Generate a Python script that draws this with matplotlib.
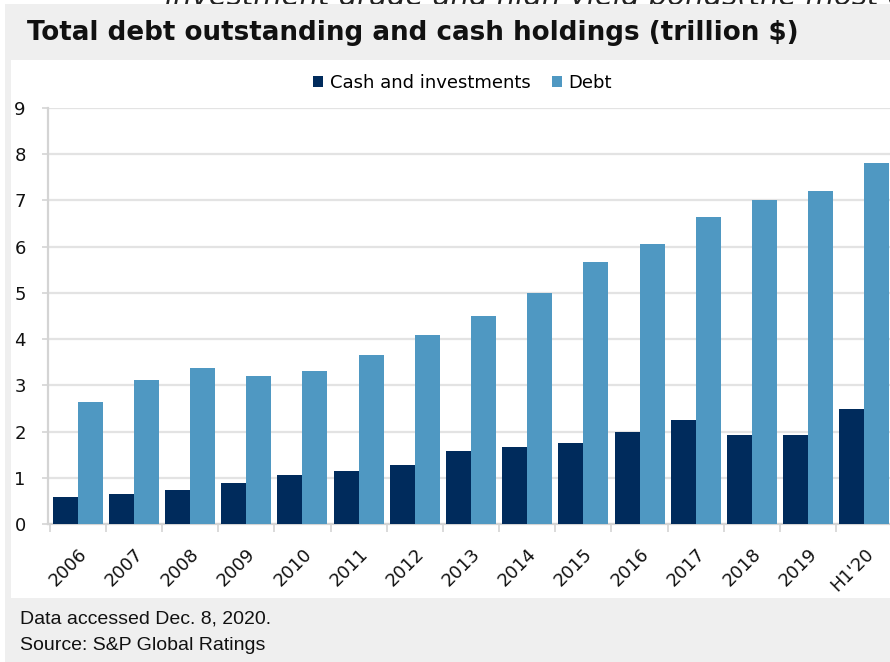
import matplotlib.pyplot as plt
import matplotlib.patches as mpatches
import numpy as np

years = ["2006", "2007", "2008", "2009", "2010", "2011", "2012", "2013",
         "2014", "2015", "2016", "2017", "2018", "2019", "H1'20"]
cash = [0.59, 0.65, 0.73, 0.89, 1.05, 1.15, 1.27, 1.58,
        1.67, 1.76, 2.00, 2.25, 1.93, 1.93, 2.49]
debt = [2.63, 3.11, 3.37, 3.21, 3.32, 3.65, 4.09, 4.50,
        5.00, 5.66, 6.06, 6.64, 7.00, 7.21, 7.82]

navy = "#002b5c"
blue = "#4f98c2"
frame = "#efefef"

W, H = 890, 662
fig = plt.figure(figsize=(W / 100, H / 100), dpi=100)
fig.patch.set_facecolor("white")

def px_rect(x0, y0, x1, y1, color):
    fig.patches.append(mpatches.Rectangle((x0 / W, 1 - y1 / H), (x1 - x0) / W, (y1 - y0) / H,
                                          transform=fig.transFigure, facecolor=color,
                                          edgecolor="none", zorder=-10))

# grey card with a white plotting panel
px_rect(5, 4, W + 2, H + 2, frame)
px_rect(11, 60, W + 2, 598, "white")

# last line of the text above the card, mostly hidden behind it
fig.text(165 / W, 1 - 5 / H, "investment grade and high yield bonds(the most on record",
         fontsize=21, style="italic", color="#222222", va="baseline", ha="left",
         family=["DejaVu Sans"], zorder=-20)

fig.text(27 / W, 1 - 33 / H, "Total debt outstanding and cash holdings (trillion $)",
         fontsize=18.8, weight="bold", color="#111111", va="center", ha="left",
         family=["DejaVu Sans"])

fig.text(20 / W, 1 - 619 / H, "Data accessed Dec. 8, 2020.", fontsize=14,
         color="#111111", va="center", ha="left", family=["Liberation Sans", "DejaVu Sans"])
fig.text(20 / W, 1 - 645 / H, "Source: S&P Global Ratings", fontsize=14,
         color="#111111", va="center", ha="left", family=["Liberation Sans", "DejaVu Sans"])

left, right, bottom, top = 48, 894, 524, 108
ax = fig.add_axes([left / W, 1 - bottom / H, (right - left) / W, (bottom - top) / H])
ax.set_facecolor("none")

x = np.arange(len(years))
bw = 0.445
ax.bar(x - bw / 2, cash, bw, color=navy, label="Cash and investments", zorder=3)
ax.bar(x + bw / 2, debt, bw, color=blue, label="Debt", zorder=3)

ax.set_xlim(-0.53, len(years) - 0.47)
ax.set_ylim(0, 9)
ax.set_yticks(range(0, 10))
ax.yaxis.grid(True, color="#e3e3e3", linewidth=1.6, zorder=0)
ax.set_axisbelow(True)

for s in ["top", "right"]:
    ax.spines[s].set_visible(False)
for s in ["left", "bottom"]:
    ax.spines[s].set_color("#d4d4d4")
    ax.spines[s].set_linewidth(1.6)

ax.tick_params(axis="y", length=4, width=1.2, color="#d4d4d4", pad=12,
               labelsize=13, labelcolor="#111111")
ax.set_xticks(x)
ax.set_xticklabels(years, rotation=45, ha="right", va="top", rotation_mode="anchor",
                   fontsize=13, color="#111111")
ax.tick_params(axis="x", length=0, pad=15)
ax.set_xticks(np.arange(len(years)) - 0.5, minor=True)
ax.tick_params(axis="x", which="minor", length=6, width=1.2, color="#d4d4d4")

ax.legend(loc="center", bbox_to_anchor=(0.49, 1 + 25 / (bottom - top)), ncol=2, frameon=False,
          handlelength=0.55, handleheight=0.55, handletextpad=0.35, columnspacing=1.2,
          prop={"family": ["DejaVu Sans"], "size": 13})

fig.savefig("out.png", dpi=100, facecolor=fig.get_facecolor())
